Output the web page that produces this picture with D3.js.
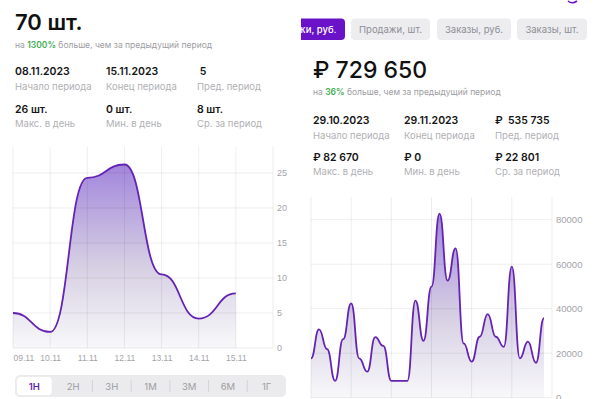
<!DOCTYPE html>
<html>
<head>
<meta charset="utf-8">
<script src="https://cdn.jsdelivr.net/npm/d3@7"></script>
<style>
  html, body { margin: 0; padding: 0; background: #fff; }
  svg { display: block; font-family: Inter, "Noto Sans", sans-serif; }
  .tick text { fill: #a3a3a8; }
</style>
</head>
<body>
<svg id="chart" width="600" height="399"></svg>
<script>
// left panel: units per day
let leftDays = ["09.11", "10.11", "11.11", "12.11", "13.11", "14.11", "15.11"];
let leftValues = [5, 2.3, 24.3, 26.2, 10.5, 4.2, 7.8];
let leftTicks = [0, 5, 10, 15, 20, 25];
let periods = ["1Н", "2Н", "3Н", "1М", "3М", "6М", "1Г"];

// right panel: revenue per day, 30 days
let rightValues = [17700, 30700, 21800, 7600, 26300, 42400, 17700, 11700, 27200, 23300,
                   7600, 7600, 7600, 43600, 25600, 49900, 82700, 52600, 67100, 24400,
                   16200, 27400, 37600, 27400, 22900, 58900, 17700, 25200, 15700, 35700];
let rightTicks = [0, 20000, 40000, 60000, 80000];
let tabs = ["Продажи, руб.", "Продажи, шт.", "Заказы, руб.", "Заказы, шт."];

let leftStats = [["08.11.2023", "Начало периода"], ["15.11.2023", "Конец периода"], [" 5", "Пред. период"],
                 ["26 шт.", "Макс. в день"], ["0 шт.", "Мин. в день"], ["8 шт.", "Ср. за период"]];
let rightStats = [["29.10.2023", "Начало периода"], ["29.11.2023", "Конец периода"], ["₽  535 735", "Пред. период"],
                  ["₽ 82 670", "Макс. в день"], ["₽ 0", "Мин. в день"], ["₽ 22 801", "Ср. за период"]];

let svg = d3.select("#chart");
let purple = "#6523b3";

let defs = svg.append("defs");
let grad = defs.append("linearGradient").attr("id", "fillGrad")
  .attr("x1", 0).attr("y1", 0).attr("x2", 0).attr("y2", 1);
grad.append("stop").attr("offset", "0%").attr("stop-color", "#a286dc");
grad.append("stop").attr("offset", "55%").attr("stop-color", "#d6cfe3");
grad.append("stop").attr("offset", "100%").attr("stop-color", "#f8f8fa");

defs.append("clipPath").attr("id", "rightClip")
  .append("rect").attr("x", 301).attr("y", 0).attr("width", 299).attr("height", 399);

// ---------- headers ----------
function header(x, big, bigY, bigSize, bigWeight, pct, subY, stats, rowY) {
  svg.append("text").attr("x", x).attr("y", bigY)
    .style("font-size", bigSize + "px").style("font-weight", bigWeight).style("fill", "#111")
    .text(big);
  let sub = svg.append("text").attr("x", x).attr("y", subY)
    .style("font-size", "8.5px").style("fill", "#9c9ca1");
  sub.append("tspan").text("на ");
  sub.append("tspan").style("fill", "#3fae4f").style("font-weight", 600).text(pct);
  sub.append("tspan").text(" больше, чем за предыдущий период");

  stats.forEach((s, i) => {
    let cx = x + (i % 3) * 91;
    let r = Math.floor(i / 3);
    svg.append("text").attr("x", cx).attr("y", rowY[r][0])
      .style("font-size", "10.5px").style("font-weight", 600).style("fill", "#151515")
      .style("white-space", "pre")
      .text(s[0]);
    svg.append("text").attr("x", cx).attr("y", rowY[r][1])
      .style("font-size", "9.5px").style("fill", "#b0b0b4")
      .text(s[1]);
  });
}

header(15, "70 шт.", 29.5, 22, 600, "1300%", 47.5, leftStats, [[75, 90], [112.5, 126.5]]);
header(313, "₽ 729 650", 77.5, 23, 500, "36%", 95, rightStats, [[124, 138.5], [160.5, 175]]);

// ---------- tabs ----------
let tabX = [[270, 345], [351, 430], [437, 511], [517, 587]];
let tabG = svg.append("g").attr("clip-path", "url(#rightClip)");
tabs.forEach((t, i) => {
  tabG.append("rect").attr("x", tabX[i][0]).attr("y", 18.5)
    .attr("width", tabX[i][1] - tabX[i][0]).attr("height", 21.5).attr("rx", 4)
    .style("fill", i === 0 ? "#6a12c8" : "#ededf0");
  tabG.append("text").attr("x", i === 0 ? 336.5 : (tabX[i][0] + tabX[i][1]) / 2).attr("y", 33)
    .attr("text-anchor", i === 0 ? "end" : "middle")
    .style("font-size", "9.5px").style("font-weight", i === 0 ? 500 : 400)
    .style("fill", i === 0 ? "#fff" : "#8e8e94")
    .text(t);
});
// bit of the purple icon at the top edge
svg.append("path").attr("d", "M568,1 Q572,4.5 577,1").style("fill", "none")
  .style("stroke", "#6a12c8").style("stroke-width", 1.6);

// ---------- chart helper ----------
function drawChart(values, x, y, xGrid, yTicks, x0, x1, yTop, fmt) {
  let g = svg.append("g");
  let area = d3.area().x((d, i) => x(i)).y0(y(0)).y1(d => y(d)).curve(d3.curveBumpX);
  let line = d3.line().x((d, i) => x(i)).y(d => y(d)).curve(d3.curveBumpX);

  g.append("path").datum(values).attr("d", area).style("fill", "url(#fillGrad)");

  g.selectAll(".hg").data(yTicks).enter().append("line")
    .attr("x1", x0).attr("x2", x1).attr("y1", d => y(d)).attr("y2", d => y(d))
    .style("stroke", "rgba(0,0,0,0.07)");
  g.selectAll(".vg").data(xGrid).enter().append("line")
    .attr("x1", d => x(d)).attr("x2", d => x(d)).attr("y1", yTop).attr("y2", y(0))
    .style("stroke", "rgba(0,0,0,0.07)");

  g.append("path").datum(values).attr("d", line)
    .style("fill", "none").style("stroke", purple).style("stroke-width", 1.8);

  let ax = g.append("g").attr("transform", "translate(" + x1 + ",0)")
    .call(d3.axisRight(y).tickValues(yTicks).tickSize(0).tickPadding(4).tickFormat(fmt));
  ax.select(".domain").remove();
  return g;
}

// ---------- left chart ----------
let xL = d3.scaleLinear().domain([0, 7]).range([13, 273]);
let yL = d3.scaleLinear().domain([0, 28.7]).range([348, 147]);
let gL = drawChart(leftValues, xL, yL, d3.range(0, 8), leftTicks, 13, 273, 147, d3.format("d"));
gL.selectAll(".tick text").style("font-size", "9px");

let xAx = gL.append("g").attr("transform", "translate(0," + yL(0) + ")")
  .call(d3.axisBottom(xL).tickValues(d3.range(0, 7)).tickSize(0).tickPadding(7)
    .tickFormat(i => leftDays[i]));
xAx.select(".domain").remove();
xAx.selectAll(".tick text").style("font-size", "8.5px")
  .attr("text-anchor", (d, i) => i === 0 ? "start" : "middle");

// period switcher
let segW = 271 / periods.length;
svg.append("rect").attr("x", 15).attr("y", 375).attr("width", 271).attr("height", 22)
  .attr("rx", 5).style("fill", "#ebebee");
svg.append("rect").attr("x", 16.5).attr("y", 376.5).attr("width", segW - 3).attr("height", 19)
  .attr("rx", 4).style("fill", "#fff").style("stroke", "#e2e2e6").style("stroke-width", 0.5);
periods.forEach((p, i) => {
  if (i > 1) {
    svg.append("line").attr("x1", 15 + i * segW).attr("x2", 15 + i * segW)
      .attr("y1", 380).attr("y2", 392).style("stroke", "#d4d4d8");
  }
  svg.append("text").attr("x", 15 + (i + 0.5) * segW).attr("y", 389.5)
    .attr("text-anchor", "middle")
    .style("font-size", "9.5px").style("font-weight", i === 0 ? 600 : 400)
    .style("fill", i === 0 ? purple : "#9c9ca1")
    .text(p);
});

// ---------- right chart ----------
let xR = d3.scaleLinear().domain([0, 30]).range([311, 552]);
let yR = d3.scaleLinear().domain([0, 90200]).range([397.7, 197]);
let gR = drawChart(rightValues, xR, yR, d3.range(0, 31, 5), rightTicks, 311, 552, 197, d3.format("d"));
gR.selectAll(".tick text").style("font-size", "9.5px");
</script>
</body>
</html>
